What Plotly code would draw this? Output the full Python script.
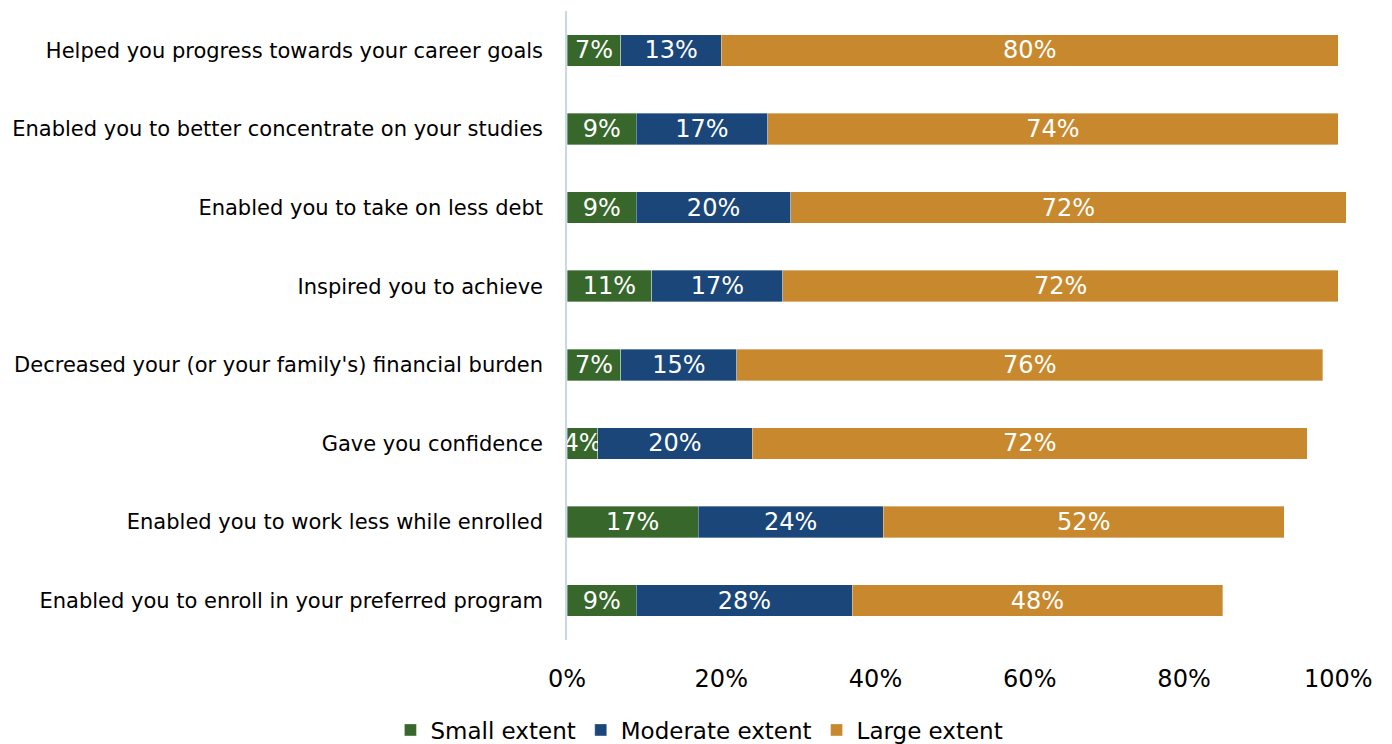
import plotly.graph_objects as go

categories = [
    "Helped you progress towards your career goals",
    "Enabled you to better concentrate on your studies",
    "Enabled you to take on less debt",
    "Inspired you to achieve",
    "Decreased your (or your family's) financial burden",
    "Gave you confidence",
    "Enabled you to work less while enrolled",
    "Enabled you to enroll in your preferred program",
]
small = [7, 9, 9, 11, 7, 4, 17, 9]
moderate = [13, 17, 20, 17, 15, 20, 24, 28]
large = [80, 74, 72, 72, 76, 72, 52, 48]

series = [
    ("Small extent", small, "#37672A"),
    ("Moderate extent", moderate, "#1B4679"),
    ("Large extent", large, "#C8892E"),
]

FONT = "DejaVu Sans"
fig = go.Figure()
for name, vals, color in series:
    fig.add_trace(go.Bar(
        y=categories,
        x=[v / 100 for v in vals],
        name=name,
        orientation="h",
        marker=dict(color=color, line=dict(color="rgba(255,255,255,0.5)", width=0.7)),
        text=[f"{v}%" for v in vals],
        textposition="inside",
        insidetextanchor="middle",
        textangle=0,
        textfont=dict(color="white", size=24, family=FONT),
        width=0.4,
        cliponaxis=False,
    ))

fig.update_layout(
    barmode="stack",
    width=1392, height=744,
    margin=dict(l=567, r=46, t=11, b=104, autoexpand=False),
    plot_bgcolor="white", paper_bgcolor="white",
    font=dict(family=FONT, size=21, color="#000000"),
    uniformtext=dict(minsize=24, mode="show"),
    showlegend=True,
    legend=dict(orientation="h", x=0.17, xanchor="center", y=-0.143, yanchor="middle",
                font=dict(size=23, family=FONT), traceorder="normal", itemwidth=30),
    xaxis=dict(range=[0, 1.01], tickvals=[0, 0.2, 0.4, 0.6, 0.8, 1.0], tickformat=".0%",
               showgrid=False, zeroline=False, showline=False, ticks="",
               tickfont=dict(size=24, family=FONT), ticklabelstandoff=22),
    yaxis=dict(categoryorder="array", categoryarray=categories[::-1], autorange=True,
               showgrid=False, zeroline=False, showline=True, linecolor="#C9D7EA", linewidth=1.5,
               ticks="", tickfont=dict(size=21, family=FONT), ticklabelstandoff=18),
)
fig.write_html("out.html")
